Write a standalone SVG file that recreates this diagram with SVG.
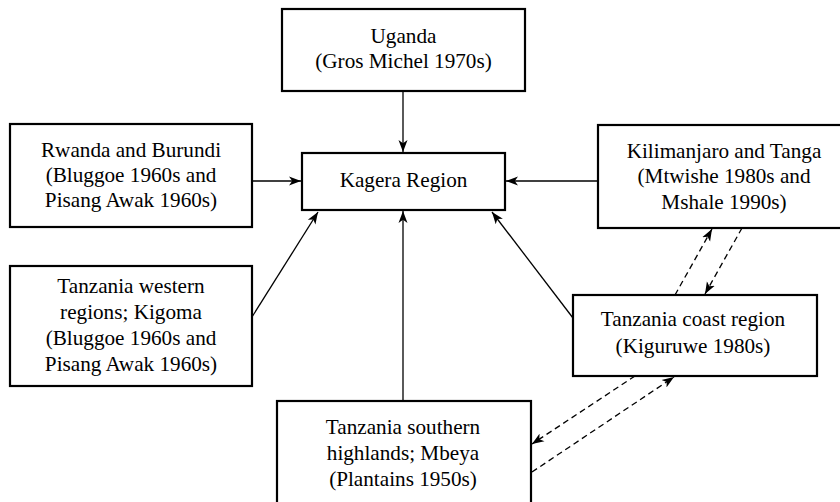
<svg xmlns="http://www.w3.org/2000/svg" width="840" height="502" viewBox="0 0 840 502">
<style>
.box{fill:#fff;stroke:#000;stroke-width:2.2}
.t{font-family:"Liberation Serif","Times New Roman",serif;font-size:21.2px;fill:#000;text-anchor:middle}
.c{stroke:#000;stroke-width:1.3;fill:none;marker-end:url(#ah)}
.d{stroke-dasharray:6 4}
</style>
<defs>
<marker id="ah" markerUnits="userSpaceOnUse" markerWidth="13" markerHeight="10" refX="12" refY="4.5" orient="auto" viewBox="0 0 13 9">
<path d="M0,0 L12,4.5 L0,9 L3.2,4.5 z" fill="#000"/>
</marker>
</defs>
<rect width="840" height="502" fill="#fff"/>
<g id="connectors">
<line class="c" x1="403" y1="91" x2="403" y2="152"/>
<line class="c" x1="252" y1="181" x2="301" y2="181"/>
<line class="c" x1="598" y1="181" x2="506" y2="181"/>
<line class="c" x1="252" y1="317" x2="318" y2="212"/>
<line class="c" x1="403" y1="401" x2="403" y2="211"/>
<line class="c" x1="573" y1="318" x2="492" y2="212"/>
<line class="c d" x1="675" y1="295" x2="712" y2="229"/>
<line class="c d" x1="742" y1="228" x2="705" y2="294"/>
<line class="c d" x1="635" y1="376" x2="532" y2="444"/>
<line class="c d" x1="532" y1="472" x2="674" y2="377"/>
</g>
<g id="uganda">
<rect class="box" x="282" y="9" width="243" height="82"/>
<text class="t" x="403.5" y="43">Uganda</text>
<text class="t" x="403.5" y="68">(Gros Michel 1970s)</text>
</g>
<g id="kagera">
<rect class="box" x="302" y="153" width="203" height="57"/>
<text class="t" x="403.5" y="187">Kagera Region</text>
</g>
<g id="rwanda">
<rect class="box" x="10" y="124" width="242" height="103"/>
<text class="t" x="131" y="157">Rwanda and Burundi</text>
<text class="t" x="131" y="182">(Bluggoe 1960s and</text>
<text class="t" x="131" y="207">Pisang Awak 1960s)</text>
</g>
<g id="kilimanjaro">
<rect class="box" x="598" y="125" width="252" height="103"/>
<text class="t" x="724" y="158">Kilimanjaro and Tanga</text>
<text class="t" x="724" y="183">(Mtwishe 1980s and</text>
<text class="t" x="724" y="209">Mshale 1990s)</text>
</g>
<g id="western">
<rect class="box" x="10" y="266" width="242" height="120"/>
<text class="t" x="131" y="293">Tanzania western</text>
<text class="t" x="131" y="319">regions; Kigoma</text>
<text class="t" x="131" y="345">(Bluggoe 1960s and</text>
<text class="t" x="131" y="371">Pisang Awak 1960s)</text>
</g>
<g id="coast">
<rect class="box" x="573" y="295" width="244" height="81"/>
<text class="t" x="693" y="326">Tanzania coast region</text>
<text class="t" x="693" y="353">(Kiguruwe 1980s)</text>
</g>
<g id="southern">
<rect class="box" x="277" y="401" width="254" height="106"/>
<text class="t" x="403" y="434">Tanzania southern</text>
<text class="t" x="403" y="460">highlands; Mbeya</text>
<text class="t" x="403" y="486">(Plantains 1950s)</text>
</g>
</svg>
